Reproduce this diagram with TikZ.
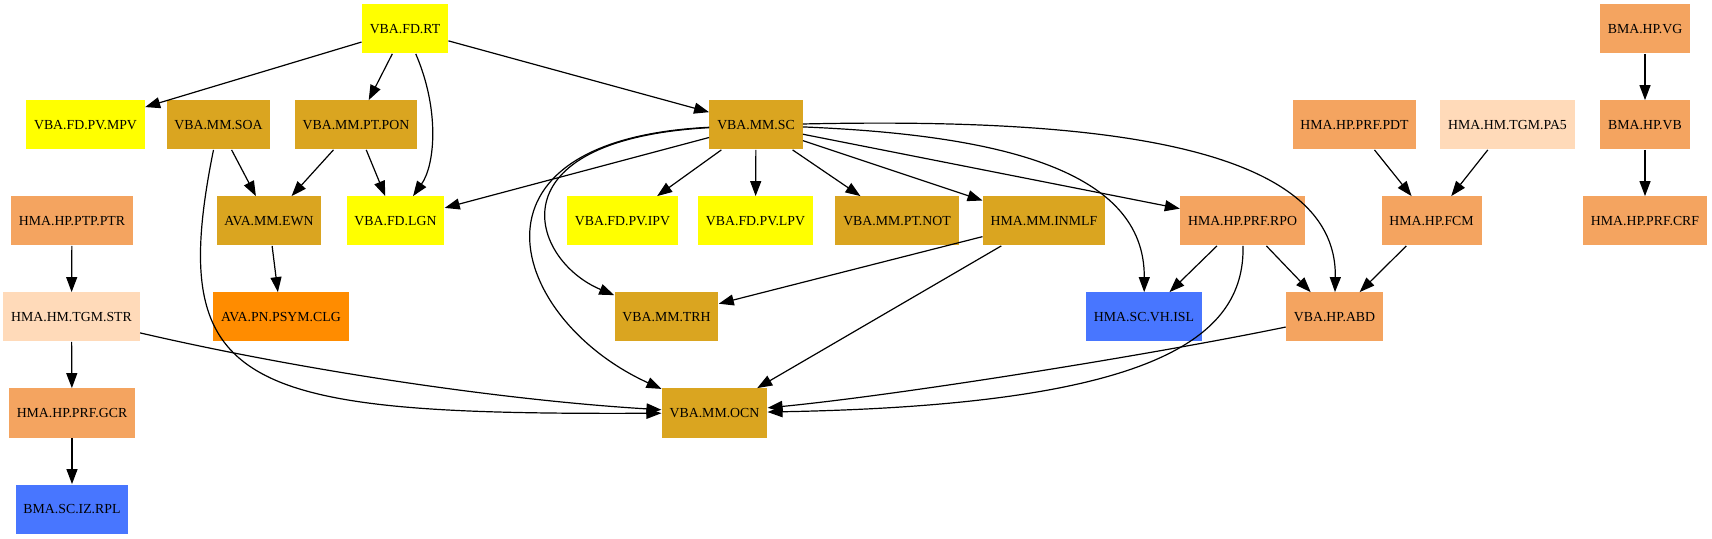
\documentclass[tikz,border=0pt]{standalone}
\usepackage{fontspec}
\setmainfont{Liberation Serif}
\usetikzlibrary{arrows.meta}

\definecolor{cyel}{HTML}{FFFF00}
\definecolor{cgold}{HTML}{DAA520}
\definecolor{csand}{HTML}{F4A460}
\definecolor{cpeach}{HTML}{FFDAB9}
\definecolor{corange}{HTML}{FF8C00}
\definecolor{cblue}{HTML}{4876FF}

\begin{document}
\begin{tikzpicture}[x=0.5pt,y=-0.5pt,
    box/.style={rectangle, inner xsep=3.9pt, inner ysep=0pt, minimum height=24.5pt,
                font=\fontsize{6.9}{8}\selectfont},
    edge/.style={line width=0.6pt, -{Triangle[length=7.5pt,width=5.5pt]}}]
			\useasboundingbox (0,0) rectangle (1712,539);

			% Define the nodes
			\node[box, fill=cyel]    (rt)    at (405,29)    {VBA.FD.RT};
			\node[box, fill=csand]   (vg)    at (1645,29)   {BMA.HP.VG};

			\node[box, fill=cyel]    (mpv)   at (85.5,125)  {VBA.FD.PV.MPV};
			\node[box, fill=cgold]   (soa)   at (218.5,125) {VBA.MM.SOA};
			\node[box, fill=cgold]   (pon)   at (356,125)   {VBA.MM.PT.PON};
			\node[box, fill=cgold]   (sc)    at (756,125)   {VBA.MM.SC};
			\node[box, fill=csand]   (pdt)   at (1354.5,125){HMA.HP.PRF.PDT};
			\node[box, fill=cpeach]  (pa5)   at (1507.5,125){HMA.HM.TGM.PA5};
			\node[box, fill=csand]   (vb)    at (1645,125)  {BMA.HP.VB};

			\node[box, fill=csand]   (ptr)   at (72,221)    {HMA.HP.PTP.PTR};
			\node[box, fill=cgold]   (ewn)   at (269,221)   {AVA.MM.EWN};
			\node[box, fill=cyel]    (lgn)   at (395.5,221) {VBA.FD.LGN};
			\node[box, fill=cyel]    (ipv)   at (622.5,221) {VBA.FD.PV.IPV};
			\node[box, fill=cyel]    (lpv)   at (755.5,221) {VBA.FD.PV.LPV};
			\node[box, fill=cgold]   (not)   at (897,221)   {VBA.MM.PT.NOT};
			\node[box, fill=cgold]   (inmlf) at (1044,221)  {HMA.MM.INMLF};
			\node[box, fill=csand]   (rpo)   at (1242.5,221){HMA.HP.PRF.RPO};
			\node[box, fill=csand]   (fcm)   at (1431.5,221){HMA.HP.FCM};
			\node[box, fill=csand]   (crf)   at (1645,221)  {HMA.HP.PRF.CRF};

			\node[box, fill=cpeach]  (str)   at (71.5,317)  {HMA.HM.TGM.STR};
			\node[box, fill=corange] (clg)   at (281,317)   {AVA.PN.PSYM.CLG};
			\node[box, fill=cgold]   (trh)   at (666.5,317) {VBA.MM.TRH};
			\node[box, fill=cblue]   (isl)   at (1144,317)  {HMA.SC.VH.ISL};
			\node[box, fill=csand]   (abd)   at (1334.5,317){VBA.HP.ABD};

			\node[box, fill=csand]   (gcr)   at (72,413)    {HMA.HP.PRF.GCR};
			\node[box, fill=cgold]   (ocn)   at (714.5,413) {VBA.MM.OCN};

			\node[box, fill=cblue]   (rpl)   at (72,509)    {BMA.SC.IZ.RPL};

			% Draw the straight edges
			\foreach \from/\to in {rt/mpv, rt/pon, rt/sc, soa/ewn, pon/ewn, pon/lgn, ewn/clg,
			    sc/lgn, sc/ipv, sc/lpv, sc/not, sc/inmlf, sc/rpo, inmlf/trh, inmlf/ocn,
			    rpo/isl, rpo/abd, pdt/fcm, pa5/fcm, fcm/abd, vg/vb, vb/crf,
			    ptr/str, str/gcr, gcr/rpl}
			\draw[edge] (\from) -- (\to);

			% Draw the curved edges
			\draw[edge] (rt) .. controls (440,110) and (435,165) .. (lgn);
			\draw[edge] (soa) .. controls (165,390) and (240,415) .. (ocn);
			\draw[edge] (sc) .. controls (490,140) and (530,260) .. (trh);
			\draw[edge] (sc) .. controls (450,140) and (510,320) .. (ocn);
			\draw[edge] (sc) .. controls (1000,135) and (1145,170) .. (isl);
			\draw[edge] (sc) .. controls (1080,118) and (1338,140) .. (abd);
			\draw[edge] (rpo) .. controls (1245,340) and (1150,405) .. (ocn);
			\draw[edge] (abd) .. controls (1150,355) and (900,395) .. (ocn);
			\draw[edge] (str) .. controls (300,370) and (500,400) .. (ocn);
            \end{tikzpicture}
\end{document}
